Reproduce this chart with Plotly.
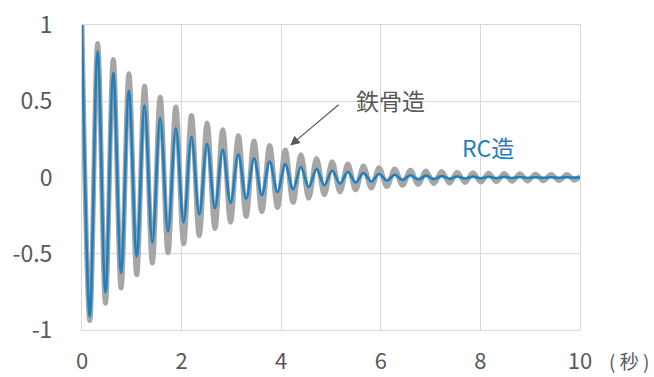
import plotly.graph_objects as go

# times of the extrema (peaks and troughs), seconds
t_ext = [0.000, 0.157, 0.314, 0.471, 0.628, 0.785, 0.942, 1.099, 1.256, 1.413,
         1.570, 1.727, 1.884, 2.041, 2.198, 2.355, 2.512, 2.669, 2.826, 2.983,
         3.140, 3.297, 3.454, 3.611, 3.768, 3.925, 4.082, 4.239, 4.396, 4.553,
         4.710, 4.867, 5.024, 5.181, 5.338, 5.495, 5.652, 5.809, 5.966, 6.123,
         6.280, 6.437, 6.594, 6.751, 6.908, 7.065, 7.222, 7.379, 7.536, 7.693,
         7.850, 8.007, 8.164, 8.321, 8.478, 8.635, 8.792, 8.949, 9.106, 9.263,
         9.420, 9.577, 9.734, 9.891, 10.000]

# 鉄骨造 (steel) extrema values
steel = [1.000, -0.938, 0.879, -0.825, 0.774, -0.725, 0.680, -0.638, 0.598, -0.561,
         0.526, -0.493, 0.463, -0.434, 0.407, -0.382, 0.358, -0.335, 0.313, -0.293,
         0.274, -0.256, 0.240, -0.224, 0.210, -0.196, 0.180, -0.163, 0.149, -0.136,
         0.124, -0.113, 0.104, -0.095, 0.088, -0.081, 0.075, -0.069, 0.064, -0.059,
         0.055, -0.051, 0.048, -0.046, 0.043, -0.041, 0.039, -0.037, 0.035, -0.033,
         0.031, -0.030, 0.028, -0.027, 0.026, -0.025, 0.024, -0.023, 0.022, -0.021,
         0.020, -0.020, 0.019, -0.018, 0.010]

# RC造 extrema values
rc = [1.000, -0.910, 0.828, -0.754, 0.686, -0.624, 0.568, -0.517, 0.470, -0.428,
      0.390, -0.355, 0.323, -0.294, 0.267, -0.243, 0.221, -0.201, 0.183, -0.167,
      0.152, -0.138, 0.126, -0.115, 0.104, -0.095, 0.086, -0.077, 0.069, -0.062,
      0.055, -0.050, 0.044, -0.040, 0.036, -0.032, 0.029, -0.026, 0.023, -0.020,
      0.018, -0.016, 0.015, -0.013, 0.012, -0.010, 0.009, -0.008, 0.007, -0.007,
      0.006, -0.005, 0.005, -0.004, 0.004, -0.003, 0.003, -0.003, 0.002, -0.002,
      0.002, -0.002, 0.002, -0.001, 0.001]

x_ticks = [0, 2, 4, 6, 8, 10]
y_ticks = [1, 0.5, 0, -0.5, -1]
y_tick_text = ["1", "0.5", "0", "-0.5", "-1"]

FONT = "Noto Sans CJK JP"
GRID = "#d9d9d9"
TXT = "#595959"
BLUE = "#1f80bd"
GRAY = "#a6a6a6"

fig = go.Figure()
fig.add_trace(go.Scatter(x=t_ext, y=steel, mode="lines", name="鉄骨造",
                         line=dict(color=GRAY, width=5, shape="spline", smoothing=1)))
fig.add_trace(go.Scatter(x=t_ext, y=rc, mode="lines", name="RC造",
                         line=dict(color=BLUE, width=2.6, shape="spline", smoothing=1)))

fig.update_layout(
    width=654, height=377,
    margin=dict(l=82, r=74, t=25, b=47),
    paper_bgcolor="white", plot_bgcolor="white",
    showlegend=False,
    font=dict(family=FONT, color=TXT, size=23),
    xaxis=dict(range=[0, 10], tickvals=x_ticks, showgrid=True, gridcolor=GRID,
               gridwidth=1, zeroline=False, showline=True, linecolor=GRID,
               mirror=True, ticks="", ticklabelstandoff=12, automargin=False,
               tickfont=dict(family=FONT, size=22, color=TXT)),
    yaxis=dict(range=[-1, 1], tickvals=y_ticks, ticktext=y_tick_text,
               showgrid=True, gridcolor=GRID, gridwidth=1, zeroline=True,
               zerolinecolor=GRID, zerolinewidth=1, showline=True,
               linecolor=GRID, mirror=True, ticks="", ticklabelstandoff=24,
               automargin=False,
               tickfont=dict(family=FONT, size=23, color=TXT)),
)

# labels
fig.add_annotation(x=6.2, y=0.51, xref="x", yref="y", text="鉄骨造",
                   showarrow=False, font=dict(family=FONT, size=23, color=TXT))
fig.add_annotation(x=4.18, y=0.21, xref="x", yref="y", text="",
                   showarrow=True, ax=50, ay=-42, arrowcolor=TXT,
                   arrowwidth=1.2, arrowhead=2, arrowsize=1.6)
fig.add_annotation(x=8.15, y=0.20, xref="x", yref="y", text="RC造",
                   showarrow=False, font=dict(family=FONT, size=23, color=BLUE))
fig.add_annotation(x=1.054, y=-0.10, xref="paper", yref="paper", text="( 秒 )",
                   showarrow=False, xanchor="left", yanchor="middle",
                   font=dict(family=FONT, size=19, color=TXT))

fig.write_html("out.html", config={"displayModeBar": False},
               post_script="document.body.style.margin='0';document.body.style.overflow='hidden';")
